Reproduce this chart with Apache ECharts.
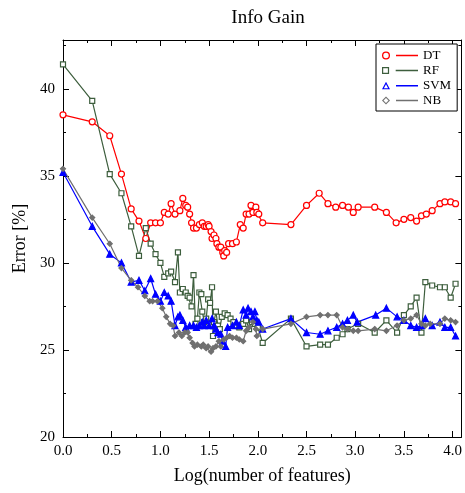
<!DOCTYPE html>
<html><head><meta charset="utf-8">
<script src="https://cdn.jsdelivr.net/npm/echarts@6/dist/echarts.min.js"></script>
<style>html,body{margin:0;padding:0;background:#fff}#c{width:465px;height:493px}</style>
</head><body><div id="c"></div>
<script>
var seriesNames = ['DT', 'RF', 'SVM', 'NB'];
var dtData = [[0,38.5],[0.30,38.1],[0.48,37.3],[0.60,35.1],[0.70,33.1],[0.78,32.4],[0.85,31.4],[0.90,32.3],[0.95,32.3],[1.00,32.3],[1.04,32.9],[1.08,32.8],[1.11,33.4],[1.15,32.8],[1.20,33.0],[1.23,33.7],[1.26,33.3],[1.28,33.2],[1.30,32.8],[1.32,32.3],[1.34,32.0],[1.37,32.0],[1.40,32.2],[1.43,32.3],[1.45,32.1],[1.47,32.1],[1.49,32.2],[1.50,32.1],[1.52,31.8],[1.53,31.4],[1.55,31.6],[1.57,31.4],[1.58,31.1],[1.60,30.9],[1.62,30.9],[1.64,30.6],[1.65,30.4],[1.66,30.7],[1.68,30.6],[1.70,31.1],[1.74,31.1],[1.78,31.2],[1.82,32.2],[1.85,32.0],[1.88,32.8],[1.91,32.8],[1.93,33.3],[1.95,32.9],[1.98,33.2],[1.99,32.9],[2.01,32.8],[2.05,32.3],[2.34,32.2],[2.50,33.3],[2.63,34.0],[2.72,33.4],[2.80,33.2],[2.87,33.3],[2.93,33.2],[2.98,32.9],[3.03,33.2],[3.20,33.2],[3.32,32.9],[3.42,32.3],[3.50,32.5],[3.57,32.6],[3.63,32.4],[3.68,32.7],[3.73,32.8],[3.79,33.0],[3.87,33.4],[3.92,33.5],[3.98,33.5],[4.03,33.4]];
var rfData = [[0,41.4],[0.30,39.3],[0.48,35.1],[0.60,34.0],[0.70,32.1],[0.78,30.4],[0.85,32.0],[0.90,31.1],[0.95,30.5],[1.00,30.0],[1.04,29.2],[1.08,29.4],[1.11,29.5],[1.15,28.9],[1.18,30.6],[1.20,28.3],[1.23,28.5],[1.26,28.3],[1.28,28.1],[1.30,28.0],[1.32,27.5],[1.34,29.3],[1.36,26.5],[1.38,26.8],[1.40,28.3],[1.42,28.2],[1.43,27.2],[1.45,26.6],[1.47,26.8],[1.49,27.9],[1.51,27.7],[1.53,28.6],[1.54,25.8],[1.55,26.6],[1.57,27.2],[1.59,26.4],[1.61,26.2],[1.63,26.9],[1.66,27.1],[1.69,27.0],[1.72,26.8],[1.75,26.6],[1.78,26.4],[1.81,26.3],[1.85,26.5],[1.88,26.7],[1.91,26.2],[1.94,26.6],[1.97,26.5],[2.00,26.3],[2.05,25.4],[2.34,26.8],[2.50,25.2],[2.64,25.3],[2.72,25.3],[2.81,25.7],[2.87,25.9],[2.92,26.2],[3.03,26.5],[3.20,26.0],[3.32,26.7],[3.43,26.0],[3.50,27.0],[3.57,27.5],[3.63,28.0],[3.68,26.0],[3.72,28.9],[3.79,28.7],[3.87,28.6],[3.92,28.6],[3.98,28.0],[4.03,28.8]];
var svmData = [[0,35.2],[0.30,32.1],[0.48,30.5],[0.60,30.0],[0.70,28.9],[0.78,29.0],[0.84,28.4],[0.90,29.1],[0.95,28.2],[1.00,27.8],[1.04,28.3],[1.08,28.1],[1.11,27.8],[1.15,26.4],[1.18,26.9],[1.20,27.0],[1.23,26.7],[1.26,26.3],[1.30,26.4],[1.34,26.4],[1.37,26.3],[1.40,26.4],[1.43,26.6],[1.45,26.4],[1.47,26.7],[1.50,26.4],[1.53,26.8],[1.55,26.4],[1.57,26.2],[1.59,26.0],[1.62,25.9],[1.64,25.5],[1.67,25.2],[1.69,26.3],[1.74,26.4],[1.78,26.6],[1.81,26.4],[1.85,27.3],[1.88,27.0],[1.90,27.4],[1.93,27.2],[1.95,26.9],[1.97,27.2],[1.99,26.7],[2.01,26.6],[2.05,26.2],[2.34,26.8],[2.50,26.0],[2.64,25.9],[2.72,26.1],[2.81,26.3],[2.87,26.5],[2.92,26.7],[2.98,27.0],[3.02,26.6],[3.21,27.0],[3.32,27.4],[3.43,26.9],[3.50,26.7],[3.57,26.4],[3.63,26.3],[3.68,26.4],[3.72,26.8],[3.79,26.4],[3.87,26.6],[3.92,26.3],[3.98,26.3],[4.03,25.8]];
var nbData = [[0,35.4],[0.30,32.6],[0.48,31.1],[0.60,29.7],[0.70,29.0],[0.77,28.6],[0.84,28.1],[0.89,27.8],[0.92,27.8],[0.97,27.8],[1.02,27.4],[1.06,26.9],[1.10,26.5],[1.13,26.4],[1.15,25.8],[1.19,26.0],[1.22,25.8],[1.25,26.0],[1.28,26.0],[1.30,25.7],[1.33,25.4],[1.35,25.2],[1.38,25.3],[1.42,25.2],[1.44,25.3],[1.47,25.1],[1.49,25.2],[1.52,24.9],[1.54,25.1],[1.57,25.2],[1.60,25.5],[1.62,25.2],[1.65,25.6],[1.68,25.7],[1.71,25.8],[1.74,25.7],[1.78,25.7],[1.81,25.6],[1.85,25.5],[1.88,26.1],[1.91,26.3],[1.95,26.6],[1.98,26.2],[1.99,25.8],[2.05,26.2],[2.34,26.5],[2.50,26.9],[2.64,27.0],[2.72,27.0],[2.81,27.0],[2.87,26.3],[2.92,26.2],[2.98,26.1],[3.03,26.1],[3.20,26.2],[3.32,26.1],[3.43,26.4],[3.50,26.7],[3.57,26.8],[3.63,27.0],[3.68,26.5],[3.72,26.4],[3.77,26.5],[3.87,26.5],[3.92,26.8],[3.98,26.7],[4.03,26.6]];
var xTicks = [0, 0.5, 1.0, 1.5, 2.0, 2.5, 3.0, 3.5, 4.0];
var yTicks = [20, 25, 30, 35, 40];

var FONT = '"Liberation Serif", "DejaVu Serif", serif';
var LINE = ' M14,3.2 L36,3.2 L36,4.8 L14,4.8 Z';
var ICONS = {
  DT: 'path://M0,4 a4,4 0 1,0 8,0 a4,4 0 1,0 -8,0 Z M1.3,4 a2.7,2.7 0 1,1 5.4,0 a2.7,2.7 0 1,1 -5.4,0 Z' + LINE,
  RF: 'path://M0.5,0.5 L7.5,0.5 L7.5,7.5 L0.5,7.5 Z M1.7,1.7 L1.7,6.3 L6.3,6.3 L6.3,1.7 Z' + LINE,
  SVM: 'path://M4,0 L8,7.5 L0,7.5 Z M4,2.4 L1.9,6.4 L6.1,6.4 Z' + LINE,
  NB: 'path://M4,0 L8,4 L4,8 L0,4 Z M4,1.5 L1.5,4 L4,6.5 L6.5,4 Z' + LINE
};
var COLORS = {DT: '#ff0000', RF: '#3d5e3d', SVM: '#0000ff', NB: '#707070'};

var chart = echarts.init(document.getElementById('c'), null, {renderer: 'canvas'});
function axisCommon(show) {
  return {
    axisLine: {show: true, onZero: false, lineStyle: {color: '#000', width: 1}},
    axisTick: {show: true, inside: true, length: 6, lineStyle: {color: '#000'}},
    minorTick: {show: true, splitNumber: 2, length: 3, lineStyle: {color: '#000'}},
    splitLine: {show: false},
    axisLabel: {show: show, color: '#000', fontFamily: FONT, fontSize: 15}
  };
}
var xA = Object.assign(axisCommon(true), {
  type: 'value', min: 0, max: 4.09, interval: 0.5, position: 'bottom',
  name: 'Log(number of features)', nameLocation: 'middle', nameGap: 30,
  nameTextStyle: {color: '#000', fontFamily: FONT, fontSize: 18}
});
xA.axisLabel.formatter = function (v) { return xTicks.indexOf(+v.toFixed(2)) >= 0 ? v.toFixed(1) : ''; };
xA.axisLabel.margin = 7;
var xB = Object.assign(axisCommon(false), {type: 'value', min: 0, max: 4.09, interval: 0.5, position: 'top'});
var yA = Object.assign(axisCommon(true), {
  type: 'value', min: 20, max: 42.8, interval: 5, position: 'left',
  name: 'Error [%]', nameLocation: 'middle', nameGap: 34,
  nameTextStyle: {color: '#000', fontFamily: FONT, fontSize: 18}
});
yA.axisLabel.formatter = function (v) { return yTicks.indexOf(v) >= 0 ? String(v) : ''; };
yA.axisLabel.margin = 8;
var yB = Object.assign(axisCommon(false), {type: 'value', min: 20, max: 42.8, interval: 5, position: 'right'});

function mk(name, data, color, symbol, size, filled) {
  return {
    name: name, type: 'line', data: data, xAxisIndex: 0, yAxisIndex: 0,
    symbol: symbol, symbolSize: size, showAllSymbol: true,
    lineStyle: {color: color, width: 1.2},
    itemStyle: {color: filled ? color : '#fff', borderColor: color, borderWidth: 1.2},
    emphasis: {disabled: true}, animation: false
  };
}
chart.setOption({
  animation: false,
  title: {text: 'Info Gain', left: 263, top: 4, textAlign: 'center',
    textStyle: {fontFamily: FONT, fontSize: 19, fontWeight: 'normal', color: '#000'}},
  grid: {left: 63, right: 2, top: 40, bottom: 56, containLabel: false},
  legend: {
    orient: 'vertical', left: 376, top: 44,
    data: seriesNames.map(function (n) {
      return {name: n, icon: ICONS[n], itemStyle: {color: COLORS[n], borderWidth: 0}};
    }),
    itemWidth: 36, itemHeight: 8, itemGap: 2,
    padding: [5, 6, 4, 6], borderColor: '#000', borderWidth: 1, backgroundColor: '#fff',
    textStyle: {fontFamily: FONT, fontSize: 13, color: '#000'}
  },
  xAxis: [xA, xB],
  yAxis: [yA, yB],
  series: [
    mk('DT', dtData, '#ff0000', 'circle', 6, false),
    mk('RF', rfData, '#3d5e3d', 'rect', 5, false),
    mk('SVM', svmData, '#0000ff', 'triangle', 6, true),
    mk('NB', nbData, '#707070', 'diamond', 5, true)
  ]
});
</script></body></html>
